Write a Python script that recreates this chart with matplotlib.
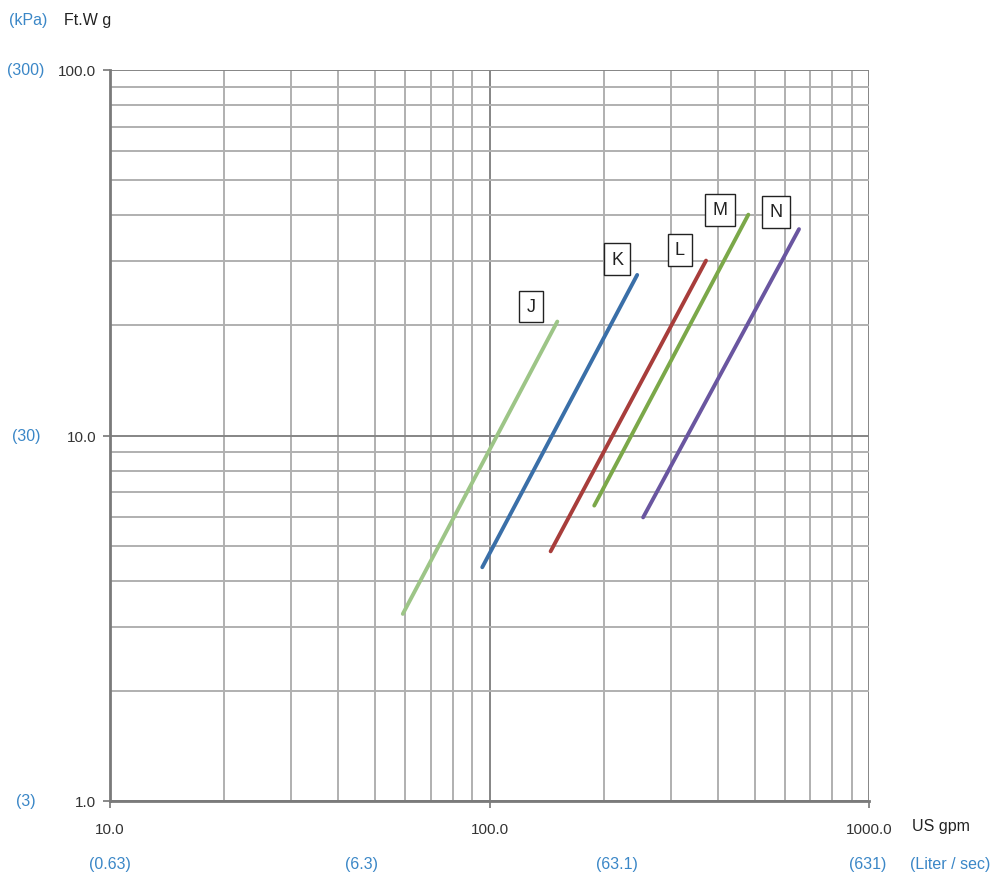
import numpy as np
import matplotlib
matplotlib.use('Agg')
import matplotlib.pyplot as plt
from matplotlib.ticker import FixedLocator, NullFormatter

plt.rcParams['font.family'] = ['Liberation Sans Narrow', 'Liberation Sans', 'DejaVu Sans']

# pump curves: (flow US gpm, head Ft.Wg) start/end
names = ['J', 'K', 'L', 'M', 'N']
flow_start = [59.1, 95.7, 144.9, 188.8, 254.0]
flow_end = [150.9, 245.0, 372.0, 480.9, 654.0]
head_start = [3.25, 4.36, 4.82, 6.43, 5.97]
head_end = [20.5, 27.5, 30.1, 40.2, 36.7]
colors = ['#9dc587', '#3a6fa8', '#a83d3b', '#7ba849', '#6a56a0']
label_x = [128.5, 216.8, 317.6, 404.6, 569.0]
label_y = [22.5, 30.4, 32.2, 41.4, 40.9]

x_ticks = [10, 100, 1000]
x_ticklabels = ['10.0', '100.0', '1000.0']
y_ticks = [1, 10, 100]
y_ticklabels = ['1.0', '10.0', '100.0']
kpa_labels = ['(3)', '(30)', '(300)']
lps_labels = ['(0.63)', '(6.3)', '(63.1)', '(631)']

BLUE = '#3b87c7'
W, H = 994, 878

fig = plt.figure(figsize=(9.94, 8.78), dpi=100, facecolor='white')
ax = fig.add_axes([110 / W, 1 - 802 / H, (869 - 110) / W, (802 - 71) / H])
ax.set_xscale('log')
ax.set_yscale('log')
ax.set_xlim(10, 1000)
ax.set_ylim(1, 100)

minor = [m * d for d in (1, 10, 100) for m in range(2, 10)]
ax.xaxis.set_minor_locator(FixedLocator(minor))
ax.yaxis.set_minor_locator(FixedLocator([m * d for d in (1, 10) for m in range(2, 10)]))
ax.xaxis.set_minor_formatter(NullFormatter())
ax.yaxis.set_minor_formatter(NullFormatter())
ax.set_xticks(x_ticks)
ax.set_xticklabels(x_ticklabels)
ax.set_yticks(y_ticks)
ax.set_yticklabels(y_ticklabels)

ax.grid(which='major', color='#858585', lw=1.4)
ax.grid(which='minor', color='#b0b0b0', lw=1.4)
ax.set_axisbelow(True)
ax.tick_params(which='major', length=5, width=1.3, color='#808080',
               labelsize=11, labelcolor='#333333', pad=5)
ax.tick_params(which='minor', length=0)
ax.tick_params(axis='x', pad=10)
for s in ('top', 'right'):
    ax.spines[s].set_visible(False)
for s in ('left', 'bottom'):
    ax.spines[s].set_color('#7a7a7a')
    ax.spines[s].set_linewidth(2)

for n, x0, x1, y0, y1, c, lx, ly in zip(names, flow_start, flow_end, head_start, head_end,
                                        colors, label_x, label_y):
    ax.plot([x0, x1], [y0, y1], color=c, lw=2.8, solid_capstyle='round', zorder=4)
    ax.text(lx, ly, n, ha='center', va='center', fontsize=13, color='#222222', zorder=5,
            bbox=dict(boxstyle='square,pad=0.4', fc='white', ec='#222222', lw=1.0))

# secondary units (kPa, Liter/sec)
def ft(px, py, s, color, ha='center'):
    fig.text(px / W, 1 - py / H, s, ha=ha, va='center', fontsize=11.5, color=color)

ft(28, 20, '(kPa)', BLUE)
ft(88, 20, 'Ft.W g', '#222222')
for py, s in zip([802, 437, 71], kpa_labels):
    ft(26, py, s, BLUE)
ft(912, 827, 'US gpm', '#222222', ha='left')
for px, s in zip([110, 362, 617, 868], lps_labels):
    ft(px, 865, s, BLUE)
ft(950, 865, '(Liter / sec)', BLUE)

fig.savefig('out.png', dpi=100, facecolor='white')
